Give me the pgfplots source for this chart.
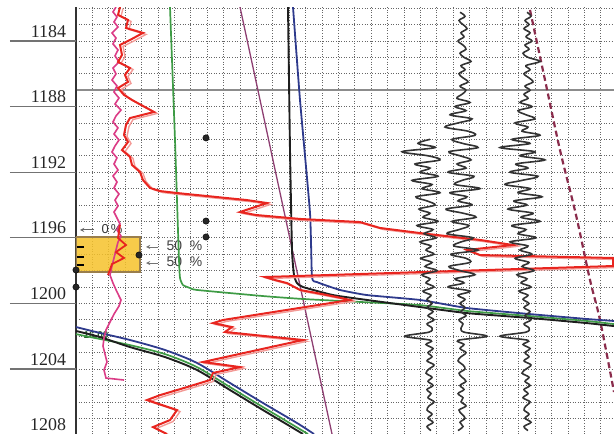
\documentclass[border=0pt]{standalone}
\usepackage{pgfplots}
\pgfplotsset{compat=1.18}
\usepackage{pgfplotstable}
\usepackage{fontspec}
\setmainfont{Liberation Serif}
\newfontfamily\sansf{Liberation Sans}
\definecolor{logred}{HTML}{E8251F}
\definecolor{logredlt}{HTML}{F39A96}
\definecolor{logpink}{HTML}{DB3C86}
\definecolor{loggreen}{HTML}{3E9B45}
\definecolor{logblue}{HTML}{2E3A8C}
\definecolor{logblack}{HTML}{1E1E1E}
\definecolor{logpurple}{HTML}{8E3F72}
\definecolor{logdash}{HTML}{8A2C4C}
\definecolor{tracec}{HTML}{333333}
\definecolor{boxfill}{HTML}{F6C22A}
\definecolor{boxedge}{HTML}{9A7E4C}

\pgfplotstableread{
x y
120 1181.93
118 1182.41
128 1182.72
126 1183.21
143 1183.51
130 1183.94
120 1184.24
122 1184.85
118 1185.28
130 1185.65
125 1186.07
128 1186.50
118 1186.87
124 1187.29
132 1187.60
154 1188.33
130 1188.70
126 1189.12
124 1189.73
128 1190.16
122 1190.65
130 1191.07
132 1191.56
140 1191.99
143 1192.48
150 1192.96
160 1193.15
177 1193.27
247 1193.70
267 1193.88
240 1194.43
256 1194.61
300 1194.85
360 1195.04
380 1195.40
420 1195.71
480 1196.13
513 1196.44
467 1196.74
480 1197.05
613 1197.23
613 1197.72
265 1198.39
275 1198.57
287 1198.76
300 1199.18
317 1199.37
337 1199.61
350 1199.79
223 1201.01
213 1201.20
232 1201.44
225 1201.74
303 1202.23
203 1203.57
240 1203.88
213 1204.24
210 1204.67
187 1205.10
160 1205.59
147 1205.89
177 1206.50
170 1207.11
153 1207.54
167 1207.96
}\redcurve

\pgfplotstableread{
x y
116 1181.93
113 1182.23
117 1182.54
114 1182.84
118 1183.15
112 1183.51
116 1183.82
113 1184.18
118 1184.55
115 1184.91
119 1185.28
113 1185.65
116 1186.01
112 1186.38
117 1186.74
114 1187.11
119 1187.48
115 1187.84
121 1188.21
116 1188.57
113 1188.94
118 1189.30
114 1189.67
119 1190.04
115 1190.40
112 1190.77
117 1191.13
114 1191.50
118 1191.87
113 1192.23
117 1192.60
114 1192.96
119 1193.33
115 1193.70
118 1194.06
114 1194.43
117 1194.79
120 1195.16
117 1195.52
121 1195.89
118 1196.26
116 1196.74
114 1197.23
112 1197.72
110 1198.27
113 1198.76
117 1199.30
121 1199.79
119 1200.16
114 1200.65
110 1201.13
106 1201.62
104 1202.11
103 1202.60
105 1203.09
107 1203.57
104 1204.06
106 1204.55
124 1204.67
}\pinkcurve

\begin{document}
\begin{tikzpicture}
\useasboundingbox (-76bp,0bp) rectangle (538bp,434bp);
\begin{axis}[
  at={(0bp,0bp)}, anchor=south west,
  scale only axis, width=538bp, height=427bp,
  xmin=76, xmax=614, ymin=1181.93, ymax=1207.96, y dir=reverse,
  xtick={92.4,108.8,125.2,141.6,158,174.4,190.8,207.2,223.6,240,256.4,272.8,289.2,305.6,322,338.4,354.8,371.2,387.6,404,420.4,436.8,453.2,469.6,486,502.4,518.8,535.2,551.6,568,584.4,600.8},
  ytick={1182,1183,1184,1185,1186,1187,1188,1189,1190,1191,1192,1193,1194,1195,1196,1197,1198,1199,1200,1201,1202,1203,1204,1205,1206,1207},
  xticklabels={}, yticklabels={},
  major tick length=0pt,
  grid=major,
  major grid style={dash pattern=on 1bp off 1.6bp, black!60, line width=0.7bp},
  axis line style={draw=none},
  clip mode=individual,
]
% emphasised grid line and left track border
\draw[black!45, line width=1.4bp] (axis cs:76,1187) -- (axis cs:614,1187);
\draw[black!80, line width=2.2bp] (axis cs:76,1181.93) -- (axis cs:76,1207.96);

% depth labels
\draw[black!55, line width=1.3bp] (axis cs:10,1184) -- (axis cs:76,1184);
\draw[black!55, line width=1.3bp] (axis cs:10,1188) -- (axis cs:76,1188);
\draw[black!55, line width=1.3bp] (axis cs:10,1192) -- (axis cs:76,1192);
\draw[black!55, line width=1.3bp] (axis cs:10,1196) -- (axis cs:76,1196);
\draw[black!55, line width=1.3bp] (axis cs:10,1200) -- (axis cs:76,1200);
\draw[black!55, line width=1.3bp] (axis cs:10,1204) -- (axis cs:76,1204);
\node[anchor=base east, font=\fontsize{18}{18}\selectfont, black!85] at (axis cs:69.5,1183.76) {1184};
\node[anchor=base east, font=\fontsize{18}{18}\selectfont, black!85] at (axis cs:69.5,1187.76) {1188};
\node[anchor=base east, font=\fontsize{18}{18}\selectfont, black!85] at (axis cs:69.5,1191.76) {1192};
\node[anchor=base east, font=\fontsize{18}{18}\selectfont, black!85] at (axis cs:69.5,1195.76) {1196};
\node[anchor=base east, font=\fontsize{18}{18}\selectfont, black!85] at (axis cs:69.5,1199.76) {1200};
\node[anchor=base east, font=\fontsize{18}{18}\selectfont, black!85] at (axis cs:69.5,1203.76) {1204};
\node[anchor=base east, font=\fontsize{18}{18}\selectfont, black!85] at (axis cs:69.5,1207.76) {1208};

% yellow interval box
\addplot[fill=boxfill, fill opacity=0.85, draw=boxedge, line width=1.2bp] coordinates {
 (76,1195.95) (140,1195.95) (140,1198.09) (76,1198.09) (76,1195.95)};
\draw[black, line width=1.2bp] (axis cs:77,1196.56) -- (axis cs:84,1196.56);
\draw[black, line width=1.2bp] (axis cs:77,1197.17) -- (axis cs:84,1197.17);
\draw[black, line width=1.2bp] (axis cs:77,1197.66) -- (axis cs:84,1197.66);
\draw[black!60, line width=0.9bp, -stealth] (axis cs:94,1195.52) -- (axis cs:80,1195.52);
\node[anchor=west, font=\sansf\fontsize{13}{13}\selectfont, black!80] at (axis cs:98,1195.45) {0\,\%};
\draw[black!55, line width=0.9bp, -stealth] (axis cs:158,1196.56) -- (axis cs:146,1196.56);
\node[anchor=west, font=\sansf\fontsize{14}{14}\selectfont, black!75] at (axis cs:163,1196.50) {50\ \ \%};
\draw[black!55, line width=0.9bp, -stealth] (axis cs:158,1197.54) -- (axis cs:146,1197.54);
\node[anchor=west, font=\sansf\fontsize{14}{14}\selectfont, black!75] at (axis cs:163,1197.48) {50\ \ \%};
\node[anchor=west, font=\sansf\bfseries\fontsize{10}{10}\selectfont, loggreen!60!black] at (axis cs:80,1201.95) {16.00};

% straight trend line
\addplot[logpurple, line width=1.3bp] coordinates {(240,1181.93) (332,1207.96)};

% dashed line
\addplot[logdash, line width=2.2bp, dash pattern=on 6bp off 3.5bp, smooth] coordinates {
 (530,1182.11) (545,1186.38) (560,1190.65) (576,1194.61) (590,1198.57) (600,1201.01) (614,1205.40)};

% green curve
\addplot[loggreen, line width=1.7bp, smooth, tension=0.3] coordinates {
 (170,1181.93) (172,1185.16) (175,1190.04) (177,1193.70) (179,1197.35) (180,1198.45)
 (183,1198.88) (190,1199.06) (197,1199.18) (263,1199.55) (303,1199.73) (360,1199.91)
 (420,1200.10) (467,1200.46) (530,1200.77) (587,1201.07) (614,1201.26)};
% black curve
\addplot[logblack, line width=1.9bp, smooth, tension=0.3] coordinates {
 (288,1181.93) (290,1190.65) (292,1196.74) (294,1198.27) (297,1198.76) (303,1199.00)
 (333,1199.49) (367,1199.79) (420,1200.22) (467,1200.59) (530,1200.89) (587,1201.20) (614,1201.38)};
% blue curve
\addplot[logblue, line width=1.8bp, smooth, tension=0.3] coordinates {
 (293,1181.93) (300,1187.60) (310,1194.49) (312,1198.39) (317,1198.70) (340,1199.18)
 (367,1199.49) (420,1199.79) (467,1200.28) (530,1200.65) (587,1200.95) (614,1201.07)};

% lower group
\addplot[logblue, line width=1.8bp, smooth] coordinates {
 (76,1201.44) (100,1201.80) (130,1202.23) (165,1202.84) (197,1203.63) (230,1204.85)
 (263,1206.07) (297,1207.29) (314,1207.96)};
\addplot[loggreen, line width=1.7bp, smooth] coordinates {
 (76,1201.87) (100,1202.17) (130,1202.54) (165,1203.09) (197,1203.88) (230,1205.10)
 (263,1206.32) (308,1207.96)};
\addplot[logblack, line width=1.9bp, smooth] coordinates {
 (76,1201.68) (100,1202.05) (130,1202.66) (165,1203.27) (197,1204.06) (230,1205.28)
 (263,1206.50) (303,1207.96)};

% pink and red curves
\addplot[logpink, line width=1.6bp] table {\pinkcurve};
\addplot[logredlt, line width=1.4bp, xshift=3bp, yshift=-1.5bp] table {\redcurve};
\addplot[logred, line width=2bp] table {\redcurve};
\addplot[logred, line width=1.8bp] coordinates {
 (120,1195.22) (118,1196.01) (126,1196.44) (116,1196.87) (124,1197.23) (112,1197.60) (108,1198.27)};

% trace A
\addplot[tracec, line width=1.6bp, smooth, tension=0.55] coordinates {
(430,1190.00) (418,1190.25) (435,1190.50) (402,1190.75) (428,1191.00) (440,1191.25) (415,1191.50)
(430,1191.75) (420,1192.00) (438,1192.25) (412,1192.50) (432,1192.75) (422,1193.00) (440,1193.25)
(416,1193.50) (427,1193.75) (435,1194.00) (419,1194.25) (430,1194.50) (423,1194.75) (438,1195.00)
(417,1195.25) (433,1195.50) (424,1195.75) (436,1196.00) (420,1196.25) (431,1196.50) (426,1196.75)
(434,1197.00) (421,1197.25) (432,1197.50) (425,1197.75) (437,1198.00) (422,1198.25) (430,1198.50)
(426,1198.75) (434,1199.00) (423,1199.25) (431,1199.50) (427,1199.75)
(432,1200.00) (427,1200.25) (433,1200.50) (428,1200.75) (434,1201.00) (427,1201.25) (432,1201.50)
(429,1201.75) (405,1202.00) (431,1202.25) (426,1202.50) (433,1202.75) (428,1203.00) (432,1203.25)
(427,1203.50) (434,1203.75) (429,1204.00) (426,1204.25) (432,1204.50) (428,1204.75) (433,1205.00)
(427,1205.25) (431,1205.50) (428,1205.75) (434,1206.00) (429,1206.25) (427,1206.50) (432,1206.75)
(428,1207.00) (433,1207.25) (427,1207.50) (431,1207.75)};

% trace B
\addplot[tracec, line width=1.6bp, smooth, tension=0.55] coordinates {
(460,1182.25) (465,1182.50) (459,1182.75) (463,1183.00) (467,1183.25) (461,1183.50) (464,1183.75)
(458,1184.00) (463,1184.25) (466,1184.50) (460,1184.75) (464,1185.00) (471,1185.25) (461,1185.50)
(465,1185.75) (459,1186.00) (463,1186.25) (468,1186.50) (460,1186.75) (466,1187.00) (462,1187.25)
(457,1187.50) (470,1187.75) (455,1188.00) (466,1188.25) (450,1188.50) (472,1188.75) (458,1189.00)
(445,1189.25) (468,1189.50) (475,1189.75) (452,1190.00) (463,1190.25) (478,1190.50) (449,1190.75)
(460,1191.00) (471,1191.25) (457,1191.50) (466,1191.75) (448,1192.00) (474,1192.25) (462,1192.50)
(455,1192.75) (480,1193.00) (450,1193.25) (467,1193.50) (458,1193.75) (472,1194.00) (446,1194.25)
(463,1194.50) (476,1194.75) (452,1195.00) (469,1195.25) (459,1195.50) (447,1195.75) (473,1196.00)
(461,1196.25) (454,1196.50) (478,1196.75) (451,1197.00) (466,1197.25) (470,1197.50) (449,1197.75)
(460,1198.00) (475,1198.25) (455,1198.50) (464,1198.75) (448,1199.00) (470,1199.25) (458,1199.50)
(465,1199.75) (460,1200.00) (465,1200.25) (461,1200.50) (466,1200.75) (459,1201.00) (463,1201.25)
(461,1201.50) (464,1201.75) (487,1202.00) (458,1202.25) (464,1202.50) (460,1202.75) (466,1203.00)
(461,1203.25) (458,1203.50) (463,1203.75) (465,1204.00) (459,1204.25) (462,1204.50) (466,1204.75)
(460,1205.00) (464,1205.25) (458,1205.50) (463,1205.75) (461,1206.00) (466,1206.25) (459,1206.50)
(462,1206.75) (465,1207.00) (460,1207.25) (463,1207.50) (458,1207.75)};

% trace C
\addplot[tracec, line width=1.6bp, smooth, tension=0.55] coordinates {
(527,1182.25) (531,1182.50) (525,1182.75) (529,1183.00) (524,1183.25) (530,1183.50) (526,1183.75)
(532,1184.00) (525,1184.25) (529,1184.50) (523,1184.75) (528,1185.00) (540,1185.25) (526,1185.50)
(530,1185.75) (524,1186.00) (529,1186.25) (533,1186.50) (525,1186.75) (530,1187.00) (524,1187.25)
(528,1187.50) (520,1187.75) (532,1188.00) (518,1188.25) (526,1188.50) (535,1188.75) (515,1189.00)
(528,1189.25) (522,1189.50) (540,1189.75) (512,1190.00) (530,1190.25) (500,1190.50) (535,1190.75)
(520,1191.00) (545,1191.25) (516,1191.50) (528,1191.75) (510,1192.00) (538,1192.25) (522,1192.50)
(505,1192.75) (530,1193.00) (518,1193.25) (542,1193.50) (514,1193.75) (527,1194.00) (508,1194.25)
(533,1194.50) (521,1194.75) (540,1195.00) (512,1195.25) (526,1195.50) (518,1195.75) (536,1196.00)
(510,1196.25) (528,1196.50) (520,1196.75) (532,1197.00) (515,1197.25) (529,1197.50) (522,1197.75)
(534,1198.00) (517,1198.25) (527,1198.50) (521,1198.75) (531,1199.00) (519,1199.25) (528,1199.50)
(523,1199.75) (529,1200.00) (524,1200.25) (530,1200.50) (525,1200.75) (531,1201.00) (524,1201.25)
(529,1201.50) (526,1201.75) (500,1202.00) (528,1202.25) (523,1202.50) (530,1202.75) (525,1203.00)
(529,1203.25) (524,1203.50) (531,1203.75) (526,1204.00) (522,1204.25) (529,1204.50) (525,1204.75)
(530,1205.00) (524,1205.25) (528,1205.50) (523,1205.75) (530,1206.00) (526,1206.25) (524,1206.50)
(529,1206.75) (525,1207.00) (531,1207.25) (524,1207.50) (528,1207.75)};

% marker points
\addplot[only marks, mark=*, mark size=3.2bp, mark options={fill=black!85, draw=black}] coordinates {
 (206,1189.91) (206,1194.98) (206,1195.95) (139,1197.05) (76,1197.96) (76,1199.00)};
\end{axis}
\end{tikzpicture}
\end{document}
